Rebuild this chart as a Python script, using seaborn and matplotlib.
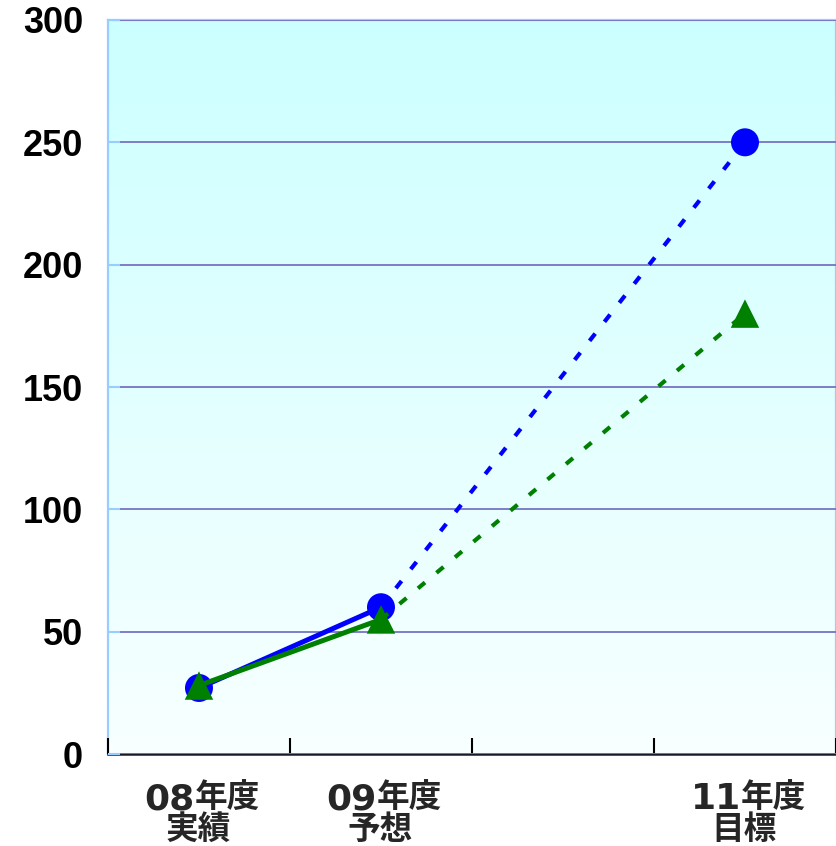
import numpy as np
import pandas as pd
import matplotlib
matplotlib.use("Agg")
import matplotlib.pyplot as plt
import seaborn as sns
from matplotlib.colors import LinearSegmentedColormap

# Fiscal-year periods (the 10年度 slot is left empty on the axis)
period_years = ["08", "09", "11"]
period_suffix = "年度"
period_kinds = ["実績", "予想", "目標"]
slots = [0, 1, 3]
boundaries = [-0.5, 0.5, 1.5, 2.5, 3.5]
blue_vals = [27, 60, 250]
green_vals = [28, 55, 180]
y_ticks = [0, 50, 100, 150, 200, 250, 300]

sns.set_theme(style="white")
plt.rcParams["font.family"] = ["Liberation Sans", "DejaVu Sans"]

fig = plt.figure(figsize=(8.37, 8.46), dpi=100)
ax = fig.add_axes([0.129, 0.1087, 0.8698, 0.8677])

# Cyan-to-white vertical gradient background
cmap = LinearSegmentedColormap.from_list("bg", ["#f8ffff", "#ccffff"])
grad = np.linspace(0, 1, 256).reshape(-1, 1)
ax.imshow(grad, extent=[0, 1, 0, 1], transform=ax.transAxes, aspect="auto",
          cmap=cmap, origin="lower", zorder=0)

blue = "#0000ff"
green = "#008000"

def draw_series(vals, color, marker, size, z):
    solid = pd.DataFrame({"x": slots[:2], "y": vals[:2]})
    proj = pd.DataFrame({"x": slots[1:], "y": vals[1:]})
    sns.lineplot(data=solid, x="x", y="y", ax=ax, color=color, lw=3.6,
                 zorder=z, solid_capstyle="butt")
    sns.lineplot(data=proj, x="x", y="y", ax=ax, color=color, lw=3.0,
                 linestyle=(0, (2.2, 3.6)), zorder=z)
    pts = pd.DataFrame({"x": slots, "y": vals})
    sns.scatterplot(data=pts, x="x", y="y", ax=ax, color=color, marker=marker,
                    s=size, edgecolor="none", linewidth=0, zorder=z + 0.5)

draw_series(blue_vals, blue, "o", 406, 3)
draw_series(green_vals, green, "^", 420, 4)

ax.set_xlim(-0.5, 3.5)
ax.set_ylim(0, 300)
ax.set_xlabel("")
ax.set_ylabel("")

# Y axis
ax.set_yticks(y_ticks)
ax.set_yticklabels([str(v) for v in y_ticks], fontsize=26, fontweight="bold",
                   color="black")
ax.tick_params(axis="y", direction="in", length=8.6, width=1.5,
               color="#99ccff", pad=18, left=True)
ax.grid(axis="y", color="#7474c4", lw=1.3, zorder=1)
ax.grid(axis="x", visible=False)

# X axis: tick marks at slot boundaries, two-line period labels below
ax.set_xticks([])
ax.set_xticks(boundaries, minor=True)
ax.tick_params(axis="x", which="minor", direction="in", length=11.5,
               width=1.5, color="black", bottom=True, labelbottom=False)

px = 0.72  # points per pixel at 100 dpi
xform = ax.get_xaxis_transform()
cjk = ["Noto Sans CJK JP", "DejaVu Sans"]
for slot, yr, kind in zip(slots, period_years, period_kinds):
    ax.annotate(yr, xy=(slot, 0), xycoords=xform,
                xytext=(-4 * px, -55 * px), textcoords="offset points",
                ha="right", va="baseline", fontsize=26, fontweight="bold",
                family=["DejaVu Sans"], annotation_clip=False)
    ax.annotate(period_suffix, xy=(slot, 0), xycoords=xform,
                xytext=(-4 * px, -54 * px), textcoords="offset points",
                ha="left", va="baseline", fontsize=23.5, fontweight="bold",
                family=cjk, annotation_clip=False)
    ax.annotate(kind, xy=(slot, 0), xycoords=xform,
                xytext=(-1 * px, -84.5 * px), textcoords="offset points",
                ha="center", va="baseline", fontsize=23.5, fontweight="bold",
                family=cjk, annotation_clip=False)

for side in ["left", "top", "right"]:
    ax.spines[side].set_color("#99ccff")
    ax.spines[side].set_linewidth(1.6)
ax.spines["bottom"].set_color("#1a1a2a")
ax.spines["bottom"].set_linewidth(1.8)
ax.set_axisbelow(False)

fig.savefig("out.png", dpi=100)
